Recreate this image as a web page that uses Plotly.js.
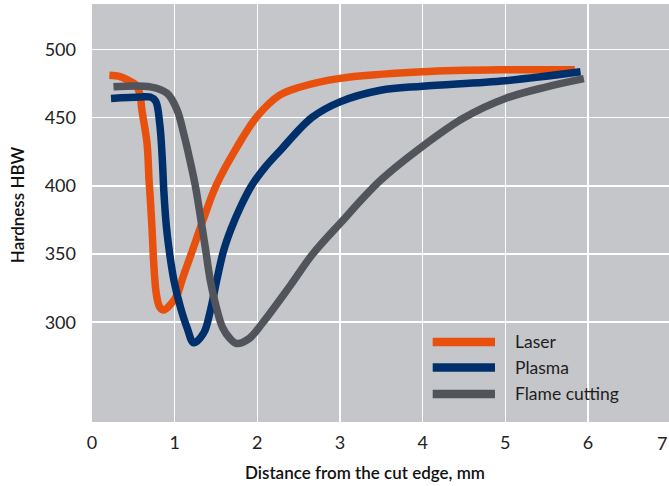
<!DOCTYPE html>
<html>
<head>
<meta charset="utf-8">
<script src="https://cdn.plot.ly/plotly-3.0.1.min.js"></script>
<style>html,body{margin:0;padding:0;background:#fff;}#chart{width:669px;height:486px;}</style>
</head>
<body>
<div id="chart"></div>
<script>
// Laser
var laserX = [0.21, 0.34, 0.45, 0.53, 0.576, 0.605, 0.666, 0.69, 0.706, 0.725, 0.75, 0.78, 0.82, 0.87, 0.95, 1.03, 1.1, 1.2, 1.35, 1.5, 1.75, 2.0, 2.27, 2.5, 3.0, 4.0, 5.0, 5.84];
var laserY = [481, 480, 477, 474, 467.7, 455, 431, 404, 390, 370, 340, 320, 311, 309, 313, 320, 333, 350, 376, 400, 428, 451, 466.4, 472, 478.7, 483.5, 485, 485];
// Plasma
var plasmaX = [0.23, 0.58, 0.706, 0.77, 0.82, 0.85, 0.87, 0.9, 0.94, 0.99, 1.07, 1.15, 1.23, 1.35, 1.43, 1.51, 1.59, 1.68, 1.8, 1.93, 2.1, 2.28, 2.66, 3.0, 3.49, 4.0, 5.0, 5.91];
var plasmaY = [464, 465, 465, 462, 445, 420, 395, 370, 350, 331, 311, 296, 285, 292, 308, 331, 352, 368, 385, 400, 414, 426, 450, 461.5, 470, 473, 477, 483.5];
// Flame cutting
var flameX = [0.26, 0.705, 0.91, 1.03, 1.11, 1.18, 1.25, 1.31, 1.37, 1.43, 1.5, 1.58, 1.67, 1.75, 1.9, 2.07, 2.4, 2.67, 3.0, 3.49, 4.0, 4.49, 5.0, 5.5, 5.95];
var flameY = [472.5, 472.5, 467.7, 455.4, 438, 420, 400, 378, 355, 331, 312, 296, 288, 284.4, 288, 300, 327, 350, 372.4, 404, 429, 449.5, 464, 472.5, 478.5];

var seriesNames = ['Laser', 'Plasma', 'Flame cutting'];
var seriesColors = ['#e8500e', '#00306b', '#51545a'];
var xTickVals = [0, 1, 2, 3, 4, 5, 6];
var xLastTick = '7';
var yTickVals = [300, 350, 400, 450, 500];

var xs = [laserX, plasmaX, flameX];
var ys = [laserY, plasmaY, flameY];

var traces = seriesNames.map(function (n, i) {
  return {
    x: xs[i], y: ys[i], name: n, type: 'scatter', mode: 'lines',
    line: {color: seriesColors[i], width: 7.5, shape: 'spline', smoothing: 1},
    showlegend: false, hoverinfo: 'skip'
  };
});

var FONT = 'Lato, "Noto Sans", sans-serif';
var shapes = [];
var annotations = [];
var legendPy = [341.7, 367.3, 393.7];
var plotL = 92, plotW = 577, plotB = 421.7, plotH = 417.7;
function px2x(px) { return (px - plotL) / plotW; }
function py2y(py) { return (plotB - py) / plotH; }
seriesNames.forEach(function (n, i) {
  shapes.push({type: 'line', xref: 'paper', yref: 'paper',
    x0: px2x(432.7), x1: px2x(495), y0: py2y(legendPy[i]), y1: py2y(legendPy[i]),
    line: {color: seriesColors[i], width: 8.5}});
  annotations.push({xref: 'paper', yref: 'paper', x: px2x(513), y: py2y(legendPy[i]),
    xanchor: 'left', yanchor: 'middle', text: n, showarrow: false,
    font: {family: FONT, size: 17.5, color: '#1e1e1e'}});
});
// last x tick label, sitting at the right edge as in the reference
annotations.push({xref: 'paper', yref: 'paper', x: 1, y: py2y(442.5), xanchor: 'right', yanchor: 'middle',
  text: xLastTick, showarrow: false, font: {family: FONT, size: 18, color: '#222'}});
annotations.push({xref: 'paper', yref: 'paper', x: px2x(365), y: py2y(472.5),
  xanchor: 'center', yanchor: 'middle', text: 'Distance from the cut edge, mm', showarrow: false,
  font: {family: FONT, size: 17, color: '#111', weight: 600}});
annotations.push({xref: 'paper', yref: 'paper', x: px2x(17), y: py2y(204),
  xanchor: 'center', yanchor: 'middle', text: 'Hardness HBW', showarrow: false, textangle: -90,
  font: {family: FONT, size: 17, color: '#111', weight: 600}});

var layout = {
  width: 669, height: 486,
  margin: {l: 92, r: 0, t: 4, b: 64.3, pad: 0},
  paper_bgcolor: '#ffffff',
  plot_bgcolor: '#c5c6ca',
  showlegend: false,
  font: {family: FONT, size: 18, color: '#222'},
  xaxis: {
    range: [0, 6.98], tickvals: xTickVals, ticktext: xTickVals.map(String),
    showgrid: true, gridcolor: '#ffffff', gridwidth: 1.6, zeroline: false,
    showline: false, ticks: '', ticklabelstandoff: 8, ticklabeloverflow: 'allow',
    tickfont: {family: FONT, size: 18, color: '#222'}, fixedrange: true
  },
  yaxis: {
    range: [226.9, 533.2], tickvals: yTickVals, ticktext: yTickVals.map(String),
    showgrid: true, gridcolor: '#ffffff', gridwidth: 1.6, zeroline: false,
    showline: false, ticks: '', ticklabelstandoff: 15,
    tickfont: {family: FONT, size: 18, color: '#222'}, fixedrange: true
  },
  shapes: shapes,
  annotations: annotations
};

Plotly.newPlot('chart', traces, layout, {displayModeBar: false, staticPlot: true});
</script>
</body>
</html>
